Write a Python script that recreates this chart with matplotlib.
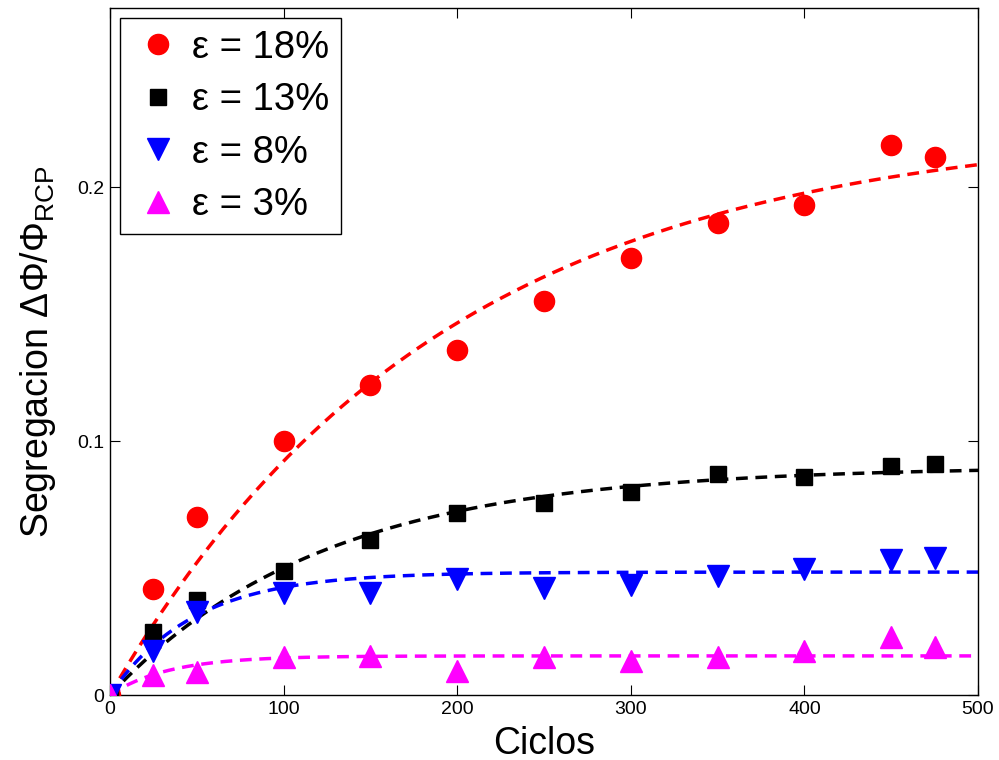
import numpy as np
import matplotlib
matplotlib.use('Agg')
import matplotlib.pyplot as plt

plt.rcParams['font.family'] = ['Liberation Sans', 'DejaVu Sans']
plt.rcParams['mathtext.fontset'] = 'custom'
plt.rcParams['mathtext.rm'] = 'Liberation Sans'
plt.rcParams['mathtext.it'] = 'Liberation Sans:italic'

# ---- data ----
ciclos = [0, 25, 50, 100, 150, 200, 250, 300, 350, 400, 450, 475]
seg_18 = [0.0, 0.0417, 0.070, 0.100, 0.122, 0.136, 0.155, 0.172, 0.186, 0.193, 0.2165, 0.212]
seg_13 = [0.0, 0.0248, 0.0374, 0.0488, 0.061, 0.0717, 0.0756, 0.080, 0.087, 0.0858, 0.090, 0.091]
seg_8 = [0.0, 0.0173, 0.0327, 0.040, 0.040, 0.0457, 0.042, 0.0433, 0.047, 0.0496, 0.053, 0.054]
seg_3 = [0.0, 0.0079, 0.009, 0.015, 0.0153, 0.0094, 0.015, 0.0134, 0.015, 0.0173, 0.0228, 0.019]

# exponential fit parameters: A * (1 - exp(-x / tau))
fit_A = [0.225, 0.090, 0.0484, 0.0154]
fit_tau = [190.0, 123.0, 48.0, 34.0]

labels = ['ε = 18%', 'ε = 13%', 'ε = 8%', 'ε = 3%']
colors = ['#ff0000', '#000000', '#0000ff', '#ff00ff']
markers = ['o', 's', 'v', '^']
msizes = [14.5, 11.5, 16, 16]

series = [seg_18, seg_13, seg_8, seg_3]

fig = plt.figure(figsize=(9.99, 7.6), dpi=100)
ax = fig.add_axes([0.110, 0.0855, 0.869, 0.904])

xfit = np.linspace(0, 500, 400)
handles = []
for s, A, tau, c, m, ms, lab in zip(series, fit_A, fit_tau, colors, markers, msizes, labels):
    h, = ax.plot(ciclos, s, linestyle='none', marker=m, color=c, markersize=ms,
                 markeredgecolor=c, label=lab, zorder=3)
    handles.append(h)
    ax.plot(xfit, A * (1 - np.exp(-xfit / tau)), color=c, linewidth=2.5,
            dashes=(3.4, 2.2), zorder=2)

ax.set_xlim(0, 500)
ax.set_ylim(0, 0.2705)
ax.set_xticks([0, 100, 200, 300, 400, 500])
ax.set_yticks([0, 0.1, 0.2])
ax.set_yticklabels(['0', '0.1', '0.2'])
ax.tick_params(direction='in', top=True, right=True, length=7, width=0.8,
               labelsize=14, pad=4)
for sp in ax.spines.values():
    sp.set_linewidth(1.0)

ax.set_xlabel('Ciclos', fontsize=27, labelpad=6)
ax.set_ylabel('Segregacion ΔΦ/Φ$_{\\mathrm{RCP}}$', fontsize=27, labelpad=14)

leg = ax.legend(handles=handles, loc='upper left', bbox_to_anchor=(0.0115, 0.985),
                borderaxespad=0, fontsize=27.5, frameon=True, fancybox=False,
                edgecolor='black', framealpha=1, handlelength=1.4,
                handletextpad=0.2, labelspacing=0.43, borderpad=0.3)
leg.get_frame().set_linewidth(1.0)

fig.savefig('out.png', dpi=100)
